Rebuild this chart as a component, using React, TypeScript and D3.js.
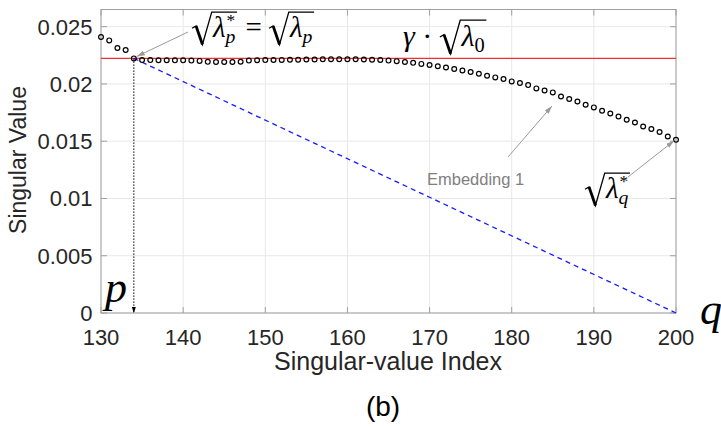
import React, { useEffect, useRef } from "react";
import * as d3 from "d3";

// Singular values for indices 130..200
const startIndex = 130;
const singularValues = [
  0.0241, 0.0238, 0.02314, 0.02296, 0.02223, 0.02208, 0.02208, 0.02207, 0.02207, 0.02206,
  0.02206, 0.02204, 0.02201, 0.02193, 0.02191, 0.02191, 0.02192, 0.02194, 0.02204, 0.02207,
  0.02208, 0.02209, 0.0221, 0.02211, 0.02212, 0.02213, 0.02214, 0.02215, 0.02215, 0.02215,
  0.02215, 0.02215, 0.02214, 0.02212, 0.02209, 0.02204, 0.02199, 0.02192, 0.02184, 0.02175,
  0.02165, 0.02154, 0.02143, 0.02131, 0.02118, 0.02104, 0.02089, 0.02072, 0.02057, 0.02043,
  0.02022, 0.02008, 0.0199, 0.01961, 0.01943, 0.01926, 0.01891, 0.01868, 0.01847, 0.01818,
  0.01795, 0.01766, 0.01742, 0.01716, 0.01687, 0.01663, 0.01629, 0.01606, 0.0158, 0.01541,
  0.01512,
];
const thresholdValue = 0.02223; // gamma * sqrt(lambda_0)
const pIndex = 134;
const qIndex = 200;
const xTicks = [130, 140, 150, 160, 170, 180, 190, 200];
const yTicks = [0, 0.005, 0.01, 0.015, 0.02, 0.025];
const yTickLabels = ["0", "0.005", "0.01", "0.015", "0.02", "0.025"];
const xDomain = [130, 200];
const yDomain = [0, 0.0265];

const W = 721;
const H = 427;
const plot = { left: 101, right: 676, top: 9.5, bottom: 313 };
const sans = "'Liberation Sans', Arial, sans-serif";
const serif = "'Liberation Serif', 'Times New Roman', serif";

type Piece =
  | { kind: "txt"; s: string; italic?: boolean }
  | { kind: "subsup"; sub?: string; sup?: string; subItalic?: boolean }
  | { kind: "sqrt"; body: Piece[] };

function layout(
  g: d3.Selection<SVGGElement, unknown, null, undefined>,
  pieces: Piece[],
  x: number,
  baseline: number,
  size: number
): number {
  let cx = x;
  for (const p of pieces) {
    if (p.kind === "txt") {
      const t = g
        .append("text")
        .attr("x", cx)
        .attr("y", baseline)
        .attr("font-family", serif)
        .attr("font-size", size)
        .attr("font-style", p.italic ? "italic" : "normal")
        .attr("fill", "#000")
        .style("white-space", "pre")
        .text(p.s);
      cx += (t.node() as SVGTextElement).getComputedTextLength();
    } else if (p.kind === "subsup") {
      let w = 0;
      if (p.sub) {
        const t = g
          .append("text")
          .attr("x", cx)
          .attr("y", baseline + 0.2 * size)
          .attr("font-family", serif)
          .attr("font-size", size * 0.68)
          .attr("font-style", p.subItalic === false ? "normal" : "italic")
          .text(p.sub);
        w = Math.max(w, (t.node() as SVGTextElement).getComputedTextLength());
      }
      if (p.sup) {
        const t = g
          .append("text")
          .attr("x", cx + 0.04 * size)
          .attr("y", baseline - 0.38 * size)
          .attr("font-family", serif)
          .attr("font-size", size * 0.6)
          .text(p.sup);
        w = Math.max(w, (t.node() as SVGTextElement).getComputedTextLength());
      }
      cx += w;
    } else {
      const rw = 0.72 * size;
      const end = layout(g, p.body, cx + rw, baseline, size) + 0.06 * size;
      const top = baseline - 0.86 * size;
      const bot = baseline + 0.26 * size;
      g.append("path")
        .attr(
          "d",
          `M${cx},${baseline - 0.3 * size} L${cx + 0.14 * size},${baseline - 0.38 * size} L${cx + 0.36 * size},${bot} L${cx + 0.68 * size},${top} L${end},${top}`
        )
        .attr("fill", "none")
        .attr("stroke", "#000")
        .attr("stroke-width", 1.3)
        .attr("stroke-linejoin", "miter");
      g.append("path")
        .attr("d", `M${cx + 0.14 * size},${baseline - 0.38 * size} L${cx + 0.36 * size},${bot}`)
        .attr("stroke", "#000")
        .attr("stroke-width", 2.8);
      cx = end + 0.04 * size;
    }
  }
  return cx;
}

export default function App() {
  const ref = useRef<SVGSVGElement | null>(null);

  useEffect(() => {
    const svg = d3.select(ref.current as SVGSVGElement);
    svg.selectAll("*").remove();

    const x = d3.scaleLinear().domain(xDomain).range([plot.left, plot.right]);
    const y = d3.scaleLinear().domain(yDomain).range([plot.bottom, plot.top]);

    const defs = svg.append("defs");
    const mk = (id: string, color: string, w: number, h: number) =>
      defs
        .append("marker")
        .attr("id", id)
        .attr("viewBox", `0 0 ${w} ${h}`)
        .attr("refX", w)
        .attr("refY", h / 2)
        .attr("markerWidth", w)
        .attr("markerHeight", h)
        .attr("markerUnits", "userSpaceOnUse")
        .attr("orient", "auto")
        .append("path")
        .attr("d", `M0,0 L${w},${h / 2} L0,${h} Z`)
        .attr("fill", color);
    mk("grayHead", "#9a9a9a", 8, 5);
    mk("blackHead", "#000", 6, 4);

    svg.append("rect").attr("width", W).attr("height", H).attr("fill", "#fff");

    // grid
    const grid = svg.append("g").attr("stroke", "#e8e8e8").attr("stroke-width", 1);
    xTicks.forEach((t) =>
      grid.append("line").attr("x1", x(t)).attr("x2", x(t)).attr("y1", plot.top).attr("y2", plot.bottom)
    );
    yTicks.forEach((t) =>
      grid.append("line").attr("x1", plot.left).attr("x2", plot.right).attr("y1", y(t)).attr("y2", y(t))
    );

    // box and inward ticks
    const axisColor = "#a0a0a0";
    svg
      .append("rect")
      .attr("x", plot.left)
      .attr("y", plot.top)
      .attr("width", plot.right - plot.left)
      .attr("height", plot.bottom - plot.top)
      .attr("fill", "none")
      .attr("stroke", axisColor)
      .attr("stroke-width", 1);
    const ticks = svg.append("g").attr("stroke", axisColor).attr("stroke-width", 1);
    const tl = 6;
    xTicks.forEach((t) => {
      ticks.append("line").attr("x1", x(t)).attr("x2", x(t)).attr("y1", plot.bottom).attr("y2", plot.bottom - tl);
      ticks.append("line").attr("x1", x(t)).attr("x2", x(t)).attr("y1", plot.top).attr("y2", plot.top + tl);
    });
    yTicks.forEach((t) => {
      ticks.append("line").attr("x1", plot.left).attr("x2", plot.left + tl).attr("y1", y(t)).attr("y2", y(t));
      ticks.append("line").attr("x1", plot.right).attr("x2", plot.right - tl).attr("y1", y(t)).attr("y2", y(t));
    });

    // tick labels
    svg
      .append("g")
      .selectAll("text")
      .data(xTicks)
      .join("text")
      .attr("x", (d) => x(d))
      .attr("y", 345)
      .attr("text-anchor", "middle")
      .attr("font-family", sans)
      .attr("font-size", 22)
      .attr("fill", "#262626")
      .text((d) => String(d));
    svg
      .append("g")
      .selectAll("text")
      .data(yTicks)
      .join("text")
      .attr("x", 92.5)
      .attr("y", (d) => y(d) + 8)
      .attr("text-anchor", "end")
      .attr("font-family", sans)
      .attr("font-size", 22)
      .attr("fill", "#262626")
      .text((_, i) => yTickLabels[i]);

    // axis titles
    svg
      .append("text")
      .attr("x", 388)
      .attr("y", 370)
      .attr("text-anchor", "middle")
      .attr("font-family", sans)
      .attr("font-size", 25)
      .attr("fill", "#262626")
      .text("Singular-value Index");
    svg
      .append("text")
      .attr("transform", `translate(26,160) rotate(-90)`)
      .attr("text-anchor", "middle")
      .attr("font-family", sans)
      .attr("font-size", 23)
      .attr("fill", "#262626")
      .text("Singular Value");
    svg
      .append("text")
      .attr("x", 383)
      .attr("y", 416)
      .attr("text-anchor", "middle")
      .attr("font-family", sans)
      .attr("font-size", 28)
      .attr("fill", "#000")
      .text("(b)");

    const pValue = singularValues[pIndex - startIndex];

    // threshold line
    svg
      .append("line")
      .attr("x1", x(xDomain[0]))
      .attr("x2", x(xDomain[1]))
      .attr("y1", y(thresholdValue))
      .attr("y2", y(thresholdValue))
      .attr("stroke", "#f03030")
      .attr("stroke-width", 1.4);

    // dashed line from p down to zero at q
    svg
      .append("line")
      .attr("x1", x(pIndex))
      .attr("y1", y(pValue))
      .attr("x2", x(qIndex))
      .attr("y2", y(0))
      .attr("stroke", "#1a1aff")
      .attr("stroke-width", 1.3)
      .attr("stroke-dasharray", "5,4");

    // dotted drop line at p
    svg
      .append("line")
      .attr("x1", x(pIndex))
      .attr("y1", y(pValue))
      .attr("x2", x(pIndex))
      .attr("y2", y(0))
      .attr("stroke", "#000")
      .attr("stroke-width", 1)
      .attr("stroke-dasharray", "1.5,1.5")
      .attr("marker-end", "url(#blackHead)");

    // singular value markers
    svg
      .append("g")
      .selectAll("circle")
      .data(singularValues)
      .join("circle")
      .attr("cx", (_, i) => x(startIndex + i))
      .attr("cy", (d) => y(d))
      .attr("r", 2.4)
      .attr("fill", "none")
      .attr("stroke", "#000")
      .attr("stroke-width", 1.2);

    // annotation arrows
    const arrow = (x1: number, y1: number, x2: number, y2: number) =>
      svg
        .append("line")
        .attr("x1", x1)
        .attr("y1", y1)
        .attr("x2", x2)
        .attr("y2", y2)
        .attr("stroke", "#9a9a9a")
        .attr("stroke-width", 1)
        .attr("marker-end", "url(#grayHead)");
    arrow(188, 32, x(pIndex) + 3, y(pValue) - 2);
    arrow(508, 157, 552, 106);
    arrow(628, 177, x(qIndex) - 2, y(singularValues[qIndex - startIndex]) + 1);

    svg
      .append("text")
      .attr("x", 427)
      .attr("y", 185)
      .attr("font-family", sans)
      .attr("font-size", 16.5)
      .attr("fill", "#808080")
      .text("Embedding 1");

    // math annotations
    const math = svg.append("g");
    const S = 29;
    layout(
      math,
      [
        { kind: "sqrt", body: [{ kind: "txt", s: "λ", italic: true }, { kind: "subsup", sub: "p", sup: "*" }] },
        { kind: "txt", s: " = " },
        { kind: "sqrt", body: [{ kind: "txt", s: "λ", italic: true }, { kind: "subsup", sub: "p" }] },
      ],
      192,
      37,
      S
    );
    layout(
      math,
      [
        { kind: "txt", s: "γ", italic: true },
        { kind: "txt", s: " · " },
        { kind: "sqrt", body: [{ kind: "txt", s: "λ", italic: true }, { kind: "subsup", sub: "0", subItalic: false }] },
      ],
      403,
      46,
      S + 1
    );
    layout(
      math,
      [{ kind: "sqrt", body: [{ kind: "txt", s: "λ", italic: true }, { kind: "subsup", sub: "q", sup: "*" }] }],
      585,
      198,
      S
    );

    // index labels p and q
    svg
      .append("text")
      .attr("x", 105)
      .attr("y", 302)
      .attr("font-family", serif)
      .attr("font-style", "italic")
      .attr("font-size", 44)
      .text("p");
    svg
      .append("text")
      .attr("x", 700)
      .attr("y", 324)
      .attr("font-family", serif)
      .attr("font-style", "italic")
      .attr("font-size", 44)
      .text("q");
  }, []);

  return (
    <svg
      ref={ref}
      width={W}
      height={H}
      style={{ position: "absolute", left: 0, top: 0, display: "block" }}
    />
  );
}
